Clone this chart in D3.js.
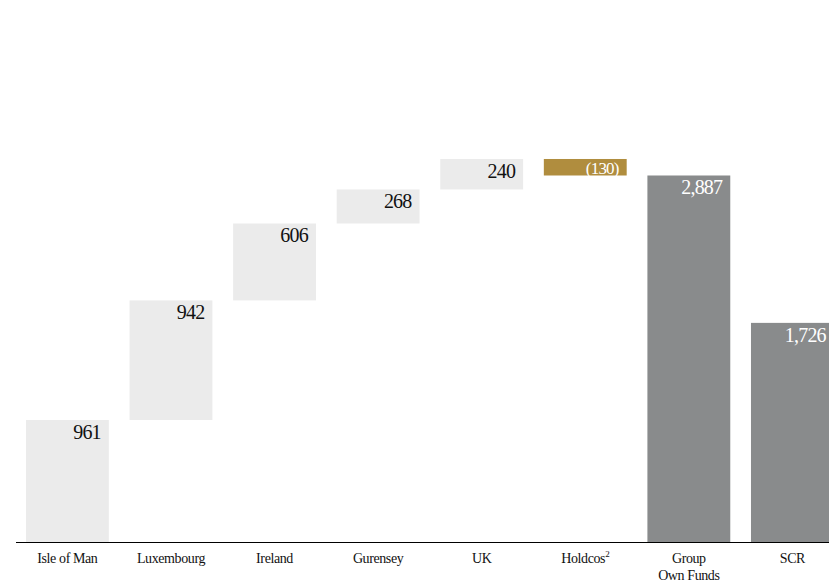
<!DOCTYPE html>
<html><head><meta charset="utf-8">
<script src="https://cdn.jsdelivr.net/npm/d3@7"></script>
<style>body{margin:0;background:#fff}svg{display:block}text{font-family:'Liberation Serif','DejaVu Serif',serif}</style>
</head><body>
<script>
const categories = ["Isle of Man","Luxembourg","Ireland","Gurensey","UK","Holdcos","Group|Own Funds","SCR"];
const values = [961, 942, 606, 268, 240, -130, 2887, 1726];
const kinds = ["step","step","step","step","step","step","total","total"];
const valueLabels = ["961","942","606","268","240","(130)","2,887","1,726"];
const superscripts = ["","","","","","2","",""];

const W = 829, H = 582;
const svg = d3.select("body").append("svg").attr("width", W).attr("height", H);

const baseY = 542;
const x = d3.scaleBand().domain(categories).range([15.6, 844.2]).paddingInner(0.2).paddingOuter(0.1);
const y = d3.scaleLinear().domain([0, 961]).range([baseY, 420]);

let run = 0;
const bars = categories.map((c, i) => {
  let y0, y1;
  if (kinds[i] === "total") { y0 = 0; y1 = values[i]; }
  else { y0 = run; y1 = run + values[i]; run = y1; }
  return {c, i, lo: Math.min(y0, y1), hi: Math.max(y0, y1), v: values[i], kind: kinds[i]};
});
const color = d => d.kind === "total" ? "#898b8c" : (d.v < 0 ? "#b08d3e" : "#ebebeb");

svg.selectAll("rect.bar").data(bars).enter().append("rect")
  .attr("x", d => x(d.c)).attr("width", x.bandwidth())
  .attr("y", d => y(d.hi)).attr("height", d => y(d.lo) - y(d.hi))
  .attr("fill", color);

svg.selectAll("text.val").data(bars).enter().append("text")
  .attr("x", d => x(d.c) + x.bandwidth() - 8)
  .attr("y", d => y(d.hi) + (d.v < 0 ? 15 : 19))
  .attr("text-anchor", "end")
  .attr("font-size", d => d.v < 0 ? 17 : 20)
  .attr("letter-spacing", -0.8)
  .attr("fill", d => (d.kind === "total" || d.v < 0) ? "#fff" : "#111")
  .text((d, i) => valueLabels[i]);

svg.append("line").attr("x1", 16).attr("x2", W).attr("y1", baseY + 0.5).attr("y2", baseY + 0.5)
  .attr("stroke", "#000").attr("stroke-width", 1.2);

const cat = svg.selectAll("text.cat").data(categories).enter().append("text")
  .attr("text-anchor", "middle")
  .attr("font-size", 14)
  .attr("letter-spacing", -0.4)
  .attr("fill", "#111");
cat.each(function(c, i) {
  const t = d3.select(this);
  const lines = c.split("|");
  lines.forEach((ln, k) => {
    t.append("tspan").attr("x", x(c) + x.bandwidth() / 2).attr("y", 563 + k * 17).text(ln);
  });
  if (superscripts[i]) {
    t.append("tspan").attr("font-size", 9).attr("dy", -6).text(superscripts[i]);
  }
});
</script>
</body></html>
